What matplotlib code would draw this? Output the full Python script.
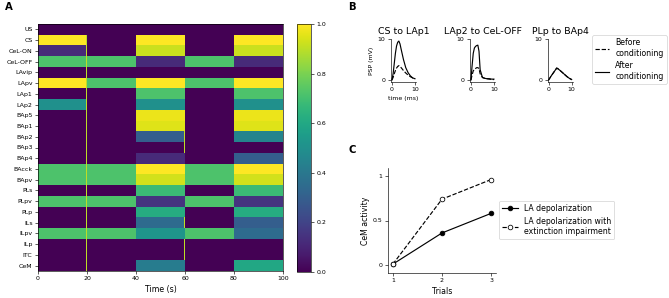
import numpy as np
import matplotlib
matplotlib.use("Agg")
import matplotlib.pyplot as plt

# ---- panel A: activity of each population over time ----
regions = ['US', 'CS', 'CeL-ON', 'CeL-OFF', 'LAvip', 'LApv', 'LAp1', 'LAp2',
           'BAp5', 'BAp1', 'BAp2', 'BAp3', 'BAp4', 'BAcck', 'BApv', 'PLs',
           'PLpv', 'PLp', 'ILs', 'ILpv', 'ILp', 'ITC', 'CeM']
# one value per region for each 20 s period
period_0_20 = [0, 1, 0.12, 0.72, 0, 1, 0, 0.5, 0, 0, 0, 0, 0,
               0.72, 0.72, 0, 0.72, 0, 0, 0.72, 0, 0, 0]
period_20_40 = [0, 0, 0, 0.72, 0, 0.72, 0, 0, 0, 0, 0, 0, 0,
                0.72, 0.72, 0, 0.72, 0, 0, 0.72, 0, 0, 0]
period_40_60 = [0, 1, 0.92, 0.12, 0, 1, 0.72, 0.5, 0.97, 0.95, 0.3, 0, 0.12,
                1.0, 0.93, 0.68, 0.15, 0.62, 0.35, 0.52, 0, 0, 0.42]
period_60_80 = [0, 0, 0, 0.72, 0, 0.72, 0, 0, 0, 0, 0, 0, 0,
                0.72, 0.72, 0, 0.72, 0, 0, 0.72, 0, 0, 0]
period_80_100 = [0, 1, 0.92, 0.12, 0, 1, 0.72, 0.5, 0.97, 0.95, 0.45, 0, 0.3,
                 1.0, 0.93, 0.68, 0.15, 0.62, 0.3, 0.35, 0, 0, 0.6]
# short transients at the period boundaries
spike_rows_20 = list(range(1, 23))
spike_rows_60 = [10, 11, 18, 20, 21]
spike_value = 0.9

# ---- panel B: PSPs ----
psp_t = [0, 0.5, 1, 1.5, 2, 2.5, 3, 3.5, 4, 5, 6, 7, 8, 9, 10]
cs_lap1_before = [0, 0.6, 1.5, 2.3, 2.9, 3.3, 3.5, 3.3, 3.0, 2.3, 1.7, 1.2, 0.8, 0.5, 0.3]
cs_lap1_after = [0, 1.5, 4.0, 6.5, 8.3, 9.2, 9.5, 8.8, 7.5, 5.0, 3.0, 1.8, 1.0, 0.5, 0.3]
lap2_cel_before = [0, 1.2, 2.2, 2.6, 2.8, 3.0, 3.0, 2.8, 1.5, 0.6, 0.4, 0.3, 0.2, 0.1, 0.1]
lap2_cel_after = [0, 3.5, 6.5, 7.8, 8.2, 8.4, 8.5, 7.0, 2.5, 0.6, 0.4, 0.3, 0.3, 0.2, 0.2]
plp_bap4_before = [0, 0.45, 0.9, 1.3, 1.7, 2.1, 2.5, 2.9, 2.75, 2.3, 1.8, 1.3, 0.8, 0.4, 0.1]
plp_bap4_after = [0, 0.45, 0.9, 1.3, 1.7, 2.1, 2.5, 2.9, 2.75, 2.3, 1.8, 1.3, 0.8, 0.4, 0.1]

# ---- panel C: CeM activity over trials ----
trials = [1, 2, 3]
cem_la_depol = [0.01, 0.36, 0.58]
cem_la_depol_ext = [0.01, 0.74, 0.96]

plt.rcParams['font.family'] = 'DejaVu Sans'

dpi = 56
fig = plt.figure(figsize=(669 / dpi, 298 / dpi), dpi=dpi)

# build the heatmap with 0.5 s bins
n_per_period = 40
periods = [period_0_20, period_20_40, period_40_60, period_60_80, period_80_100]
act = np.concatenate([np.repeat(np.array(p)[:, None], n_per_period, axis=1)
                      for p in periods], axis=1)
act[spike_rows_20, n_per_period - 1] = spike_value
act[spike_rows_60, 3 * n_per_period - 1] = spike_value

axA = fig.add_axes([38 / 669, 1 - 271 / 298, 245 / 669, 247 / 298])
im = axA.imshow(act, aspect='auto', cmap='viridis', vmin=0, vmax=1,
                interpolation='nearest',
                extent=[0, 100, len(regions) - 0.5, -0.5])
axA.set_yticks(range(len(regions)))
axA.set_yticklabels(regions, fontsize=8)
axA.set_xticks([0, 20, 40, 60, 80, 100])
axA.tick_params(labelsize=8)
axA.set_xlabel('Time (s)', fontsize=10)

cax = fig.add_axes([297 / 669, 1 - 272 / 298, 14 / 669, 248 / 298])
cb = fig.colorbar(im, cax=cax)
cb.set_ticks([0, 0.2, 0.4, 0.6, 0.8, 1.0])
cb.ax.tick_params(labelsize=8)

# panel B
b_titles = ['CS to LAp1', 'LAp2 to CeL-OFF', 'PLp to BAp4']
b_before = [cs_lap1_before, lap2_cel_before, plp_bap4_before]
b_after = [cs_lap1_after, lap2_cel_after, plp_bap4_after]
b_lefts = [390.8, 469.8, 547.5]
b_axes = []
for left, title, bef, aft in zip(b_lefts, b_titles, b_before, b_after):
    ax = fig.add_axes([left / 669, 1 - 82 / 298, 25.3 / 669, 43 / 298])
    ax.plot(psp_t, bef, 'k--', lw=1.5, label='Before\nconditioning')
    ax.plot(psp_t, aft, 'k-', lw=1.5, label='After\nconditioning')
    ax.set_xlim(-0.5, 10.5)
    ax.set_ylim(-0.5, 10)
    ax.set_xticks([0, 10])
    ax.set_yticks([0, 10])
    ax.tick_params(labelsize=8)
    ax.set_title(title, fontsize=12)
    ax.spines['top'].set_visible(False)
    ax.spines['right'].set_visible(False)
    b_axes.append(ax)
b_axes[0].set_ylabel('PSP (mV)', fontsize=8)
b_axes[0].set_xlabel('time (ms)', fontsize=8)
b_axes[-1].legend(loc='center left', bbox_to_anchor=(592 / 669, 1 - 59.5 / 298),
                  bbox_transform=fig.transFigure, fontsize=10,
                  handlelength=1.8, borderaxespad=0)

# panel C
axC = fig.add_axes([388 / 669, 1 - 273 / 298, 108 / 669, 105 / 298])
axC.plot(trials, cem_la_depol, 'k-o', lw=1.5, label='LA depolarization')
axC.plot(trials, cem_la_depol_ext, 'k--o', lw=1.5, mfc='white',
         label='LA depolarization with\nextinction impairment')
axC.set_xlim(0.9, 3.1)
axC.set_ylim(-0.09, 1.09)
axC.set_xticks([1, 2, 3])
axC.set_yticks([0, 0.5, 1])
axC.set_yticklabels(['0', '0.5', '1'])
axC.tick_params(labelsize=8)
axC.set_xlabel('Trials', fontsize=10)
axC.set_ylabel('CeM activity', fontsize=10)
axC.spines['top'].set_visible(False)
axC.spines['right'].set_visible(False)
axC.legend(loc='center left', bbox_to_anchor=(499 / 669, 1 - 220 / 298),
           bbox_transform=fig.transFigure, fontsize=10, borderaxespad=0)

fig.text(9 / 669, 1 - 7 / 298, 'A', fontsize=13, fontweight='bold', ha='center', va='center')
fig.text(352 / 669, 1 - 7 / 298, 'B', fontsize=13, fontweight='bold', ha='center', va='center')
fig.text(352 / 669, 1 - 150 / 298, 'C', fontsize=13, fontweight='bold', ha='center', va='center')

fig.savefig('out.png', dpi=dpi)
